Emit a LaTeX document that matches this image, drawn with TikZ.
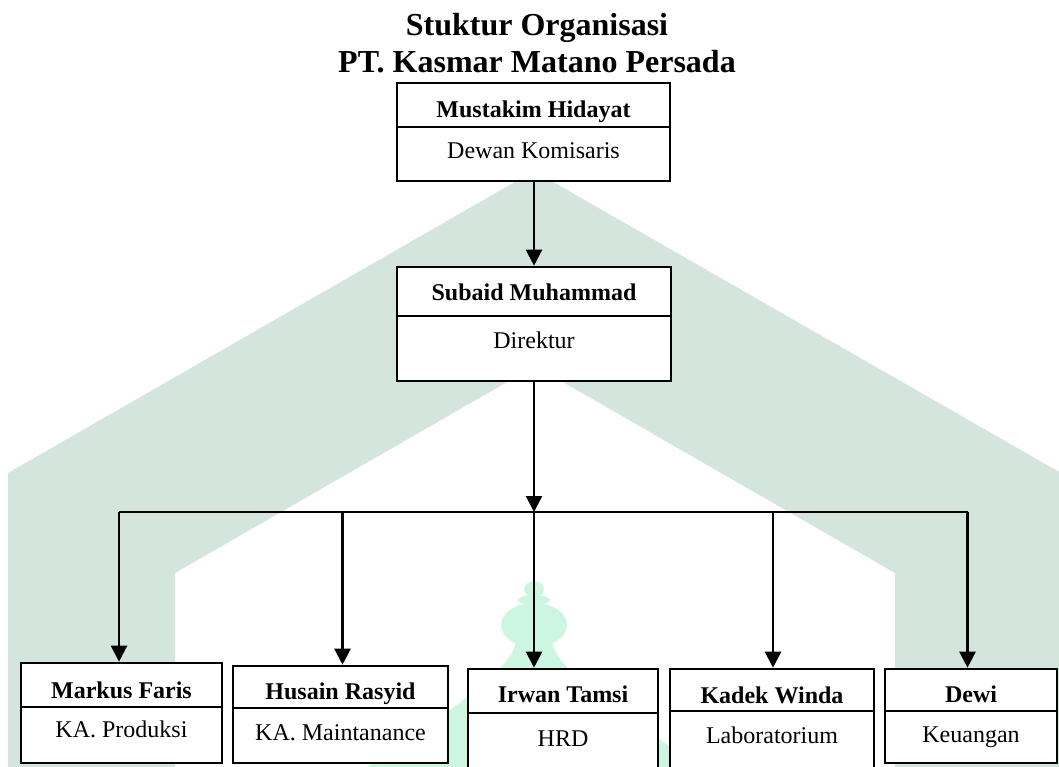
\documentclass[tikz,border=0pt]{standalone}
\usepackage{fontspec}
\setmainfont{Liberation Serif}
\usetikzlibrary{arrows.meta}
\definecolor{wmgrey}{RGB}{211,229,221}
\definecolor{wmmint}{RGB}{204,246,224}
\begin{document}
\begin{tikzpicture}[x=1pt,y=-1pt,
  box/.style={draw=black, fill=white, line width=2.6pt, inner sep=0pt, rectangle},
  divl/.style={draw=black, line width=2.6pt},
  nm/.style={anchor=base, inner sep=0pt, font=\fontsize{24}{28}\selectfont\bfseries},
  rl/.style={anchor=base, inner sep=0pt, font=\fontsize{24}{28}\selectfont},
  ttl/.style={anchor=base, inner sep=0pt, font=\fontsize{32}{37}\selectfont\bfseries},
  ln/.style={draw=black, line width=2.3pt},
  arr/.style={ln, -{Triangle[length=16pt,width=16pt]}}]
\useasboundingbox (0,0) rectangle (1059,766);
\clip (0,0) rectangle (1059,766);
% watermark
\fill[wmgrey] (8,780) -- (8,473) -- (534,171) -- (1061,473) -- (1061,780)
  -- (895,780) -- (895,573) -- (535,366) -- (175,573) -- (175,780) -- cycle;
\fill[wmmint] (534,589) ellipse [x radius=10pt, y radius=8pt];
\fill[wmmint] (534,600) ellipse [x radius=16pt, y radius=5pt];
\fill[wmmint] (534,625) ellipse [x radius=33pt, y radius=22pt];
\fill[wmmint] (516,642) -- (552,642) .. controls (557,668) and (600,700) .. (720,780)
  -- (348,780) .. controls (468,700) and (511,668) .. (516,642) -- cycle;
% title
\node[ttl] (t1) at (537,35) {Stuktur Organisasi};
\node[ttl] (t2) at (537,72) {PT. Kasmar Matano Persada};
% boxes
\node[box, minimum width=273pt, minimum height=98pt] (b0) at (533.5,132) {};
\draw[divl] (b0.west |- 0,127) -- (b0.east |- 0,127);
\node[nm] (b0n) at (533.5,117) {Mustakim Hidayat};
\node[rl] (b0r) at (533.5,158) {Dewan Komisaris};

\node[box, minimum width=274pt, minimum height=114pt] (b1) at (534,324) {};
\draw[divl] (b1.west |- 0,316) -- (b1.east |- 0,316);
\node[nm] (b1n) at (534,300) {Subaid Muhammad};
\node[rl] (b1r) at (534,348) {Direktur};

\node[box, minimum width=201pt, minimum height=100pt] (bm) at (121.5,713) {};
\draw[divl] (bm.west |- 0,707) -- (bm.east |- 0,707);
\node[nm] (bmn) at (121.5,698) {Markus Faris};
\node[rl] (bmr) at (121.5,737) {KA. Produksi};

\node[box, minimum width=215pt, minimum height=97pt] (bh) at (340.5,714.5) {};
\draw[divl] (bh.west |- 0,708) -- (bh.east |- 0,708);
\node[nm] (bhn) at (340.5,699) {Husain Rasyid};
\node[rl] (bhr) at (340.5,740) {KA. Maintanance};

\node[box, minimum width=190pt, minimum height=121pt] (bi) at (563,729.5) {};
\draw[divl] (bi.west |- 0,713) -- (bi.east |- 0,713);
\node[nm] (bin) at (563,702) {Irwan Tamsi};
\node[rl] (bir) at (563,746) {HRD};

\node[box, minimum width=204pt, minimum height=121pt] (bk) at (772,729.5) {};
\draw[divl] (bk.west |- 0,711) -- (bk.east |- 0,711);
\node[nm] (bkn) at (772,703) {Kadek Winda};
\node[rl] (bkr) at (772,743) {Laboratorium};

\node[box, minimum width=172pt, minimum height=94pt] (bd) at (971,716) {};
\draw[divl] (bd.west |- 0,711) -- (bd.east |- 0,711);
\node[nm] (bdn) at (971,702) {Dewi};
\node[rl] (bdr) at (971,742) {Keuangan};
% connectors
\coordinate (bus) at (534,512);
\coordinate (cm) at (119,512);
\coordinate (ch) at (342.5,513);
\coordinate (ck) at (773,511);
\coordinate (cd) at (967.5,512);
\draw[arr] (b1.north |- b0.south) -- (b1.north);
\draw[arr] (b1.south) -- (bus);
\draw[ln] (cm) -- (cd);
\draw[arr] (cm) -- (bm.north -| cm);
\draw[arr] (ch) -- (bh.north -| ch);
\draw[arr] (bus) -- (bi.north -| bus);
\draw[arr] (ck) -- (bk.north -| ck);
\draw[arr] (cd) -- (bd.north -| cd);
\end{tikzpicture}
\end{document}
